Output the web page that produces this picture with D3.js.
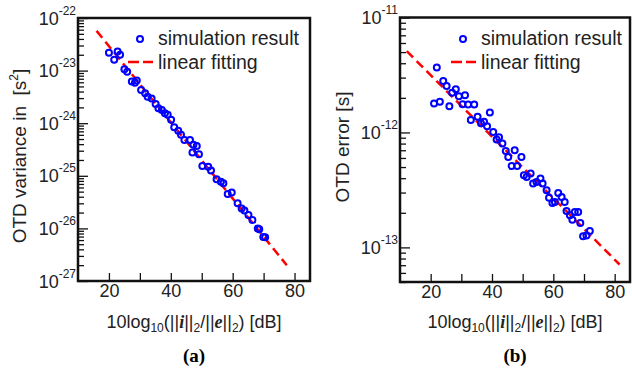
<!DOCTYPE html>
<html>
<head>
<meta charset="utf-8">
<style>
	body { margin: 0; background: #fff; }
	svg { display: block; font-family: Arial, "Liberation Sans", sans-serif; }
	.frame { fill: none; stroke: #111; stroke-width: 2.5; }
	.tick line { stroke: #111; stroke-width: 1.3; }
	.tick text { fill: #222; font-size: 18px; }
	.dot { fill: none; stroke: #0000ff; stroke-width: 2; }
	.fit { fill: none; stroke: #ff0000; stroke-width: 2.5; stroke-dasharray: 9 5; }
	.label { fill: #222; }
</style>
</head>
<body>
<div class="vis-otd"></div>
<script src="https://d3js.org/d3.v7.min.js"></script>
<script>

	// Data //
	// ---- //

	// (a) OTD variance
	let xA = [20.0, 21.7, 22.8, 23.6, 25.0, 25.9, 27.4, 28.4, 29.0, 30.4, 31.7, 32.5, 33.8, 35.1, 36.0,
		37.1, 38.1, 39.0, 40.1, 41.1, 42.4, 43.3, 44.4, 46.2, 47.3, 48.4, 47.0, 49.1, 50.2, 52.1,
		53.0, 54.8, 56.2, 57.0, 58.4, 59.7, 61.6, 62.9, 63.8, 65.1, 66.4, 68.1, 68.6, 69.9, 70.5];
	let yA = [2.19e-23, 1.6e-23, 2.3e-23, 2.0e-23, 1.06e-23, 9.5e-24, 6.2e-24, 5.9e-24, 6.5e-24, 4.3e-24, 3.7e-24, 3.2e-24, 2.96e-24, 2.33e-24, 1.92e-24,
		1.78e-24, 1.55e-24, 1.44e-24, 1.16e-24, 8.4e-25, 7.2e-25, 6.0e-25, 4.8e-25, 4.8e-25, 3.9e-25, 3.7e-25, 2.77e-25, 2.57e-25, 1.54e-25, 1.49e-25,
		1.26e-25, 8.6e-26, 7.7e-26, 7.2e-26, 4.5e-26, 4.8e-26, 3.0e-26, 2.4e-26, 2.18e-26, 1.79e-26, 1.44e-26, 1.0e-26, 9.6e-27, 6.9e-27, 6.8e-27];
	let fitXA = [16, 77.5];
	let fitYA = [5.7e-23, 2.0e-27];

	// (b) OTD error
	let xB = [22.0, 21.1, 23.0, 24.1, 25.2, 26.1, 27.0, 28.2, 29.2, 30.4, 31.2, 32.2, 34.2, 33.1, 35.3,
		36.4, 37.4, 38.4, 39.3, 40.4, 41.5, 42.3, 43.4, 44.5, 45.3, 46.4, 47.4, 48.2, 49.6, 50.4,
		51.3, 52.6, 53.4, 54.5, 55.8, 56.5, 57.8, 58.6, 59.7, 60.5, 61.6, 62.7, 63.7, 64.3, 65.4,
		66.2, 67.0, 68.1, 68.8, 69.7, 70.8, 71.9];
	let yB = [3.68e-12, 1.79e-12, 1.85e-12, 2.80e-12, 2.53e-12, 1.69e-12, 2.21e-12, 2.37e-12, 2.07e-12, 1.76e-12, 2.11e-12, 1.75e-12, 1.75e-12, 1.28e-12, 1.37e-12,
		1.20e-12, 1.24e-12, 1.13e-12, 1.49e-12, 1.01e-12, 8.7e-13, 9.1e-13, 8.0e-13, 6.9e-13, 6.1e-13, 5.1e-13, 7.0e-13, 5.1e-13, 6.1e-13, 4.24e-13,
		4.1e-13, 4.4e-13, 3.59e-13, 3.71e-13, 3.97e-13, 3.59e-13, 3.14e-13, 2.71e-13, 2.43e-13, 2.48e-13, 2.97e-13, 2.74e-13, 2.48e-13, 2.07e-13, 1.90e-13,
		1.74e-13, 2.03e-13, 2.03e-13, 1.63e-13, 1.25e-13, 1.27e-13, 1.39e-13];
	let fitXB = [12.2, 81.6];
	let fitYB = [5.1e-12, 7.1e-14];

	// Ticks
	let xTicks = [20, 30, 40, 50, 60, 70, 80];
	let xTickLabels = ["20", "", "40", "", "60", "", "80"];
	let expA = [-22, -23, -24, -25, -26, -27];
	let expB = [-11, -12, -13];

	let legendLabels = ["simulation result", "linear fitting"];

	// Setup //
	// ----- //

	let svg = d3.select(".vis-otd").append("svg")
		.attr("width", 632)
		.attr("height", 369);

	function panel(cfg) {
		let x = d3.scaleLinear().domain([10, 85]).range([cfg.left, cfg.right]);
		let y = d3.scaleLog().domain(cfg.ydom).range([cfg.bottom, cfg.top]);
		let g = svg.append("g");

		// minor y ticks
		let minor = [];
		for (let e = Math.floor(Math.log10(cfg.ydom[0])); e < Math.log10(cfg.ydom[1]); e++) {
			for (let m = 2; m <= 9; m++) {
				let v = m * Math.pow(10, e);
				if (v >= cfg.ydom[0] && v <= cfg.ydom[1]) minor.push(v);
			}
		}
		g.append("g")
			.attr("transform", "translate(" + cfg.left + ",0)")
			.call(d3.axisLeft(y).tickValues(minor).tickSize(-6).tickFormat(""))
			.call(a => a.select(".domain").remove());
		g.append("g")
			.attr("transform", "translate(" + cfg.left + ",0)")
			.call(d3.axisLeft(y).tickValues(cfg.exps.map(e => Math.pow(10, e))).tickSize(-10).tickFormat(""))
			.call(a => a.select(".domain").remove());

		// y tick labels 10^e
		let yl = g.selectAll(".ylab").data(cfg.exps).enter().append("text")
			.attr("class", "label")
			.attr("x", cfg.left - 2)
			.attr("y", d => y(Math.pow(10, d)) + 6.5)
			.style("text-anchor", "end")
			.style("font-size", "18px");
		yl.append("tspan").text("10");
		yl.append("tspan").attr("dy", -10).style("font-size", "12px").text(d => "-" + Math.abs(d));

		// x axis
		g.append("g")
			.attr("transform", "translate(0," + cfg.bottom + ")")
			.call(d3.axisBottom(x).tickValues(xTicks).tickSize(-8).tickPadding(3)
				.tickFormat((d, i) => xTickLabels[i]))
			.call(a => a.select(".domain").remove());

		// frame
		g.append("rect")
			.attr("class", "frame")
			.attr("x", cfg.left).attr("y", cfg.top)
			.attr("width", cfg.right - cfg.left)
			.attr("height", cfg.bottom - cfg.top);

		// fit line
		let line = d3.line().x(d => x(d[0])).y(d => y(d[1]));
		g.append("path")
			.datum(cfg.fx.map((v, i) => [v, cfg.fy[i]]))
			.attr("class", "fit")
			.attr("d", line);

		// points
		g.selectAll(".dot").data(cfg.xs.map((v, i) => [v, cfg.ys[i]])).enter().append("circle")
			.attr("class", "dot")
			.attr("cx", d => x(d[0]))
			.attr("cy", d => y(d[1]))
			.attr("r", 3);

		// legend
		g.append("circle").attr("class", "dot")
			.attr("cx", cfg.legX).attr("cy", 39).attr("r", 3);
		g.append("line").attr("class", "fit")
			.attr("x1", cfg.legX - 12).attr("x2", cfg.legX + 13)
			.attr("y1", 62).attr("y2", 62)
			.style("stroke-dasharray", "11 4");
		g.selectAll(".leg").data(legendLabels).enter().append("text")
			.attr("class", "label")
			.attr("x", cfg.legX + 18)
			.attr("y", (d, i) => 45 + i * 24)
			.style("font-size", "19.5px")
			.text(d => d);

		// x title
		let cx = (cfg.left + cfg.right) / 2;
		let xt = g.append("text")
			.attr("class", "label")
			.attr("x", cx).attr("y", 328)
			.style("text-anchor", "middle")
			.style("font-size", "18px");
		xt.append("tspan").text("10log");
		xt.append("tspan").attr("dy", 4).style("font-size", "12px").text("10");
		xt.append("tspan").attr("dy", -4).text("(||");
		xt.append("tspan").style("font-family", "'Liberation Serif', serif").style("font-weight", 700).style("font-style", "italic").text("i");
		xt.append("tspan").text("||");
		xt.append("tspan").attr("dy", 4).style("font-size", "12px").text("2");
		xt.append("tspan").attr("dy", -4).text("/||");
		xt.append("tspan").style("font-family", "'Liberation Serif', serif").style("font-weight", 700).style("font-style", "italic").text("e");
		xt.append("tspan").text("||");
		xt.append("tspan").attr("dy", 4).style("font-size", "12px").text("2");
		xt.append("tspan").attr("dy", -4).text(") [dB]");

		// y title
		let yt = g.append("text")
			.attr("class", "label")
			.attr("transform", "translate(" + cfg.ytx + "," + cfg.yty + ") rotate(-90)")
			.style("text-anchor", "middle")
			.style("font-size", "19px")
			.style("white-space", "pre");
		cfg.ytitle(yt);

		// panel letter
		g.append("text")
			.attr("x", cx).attr("y", 362)
			.style("text-anchor", "middle")
			.style("font-family", "'Liberation Serif', 'Times New Roman', serif")
			.style("font-weight", 700)
			.style("font-size", "19px")
			.text(cfg.letter);
	}

	panel({
		left: 78, right: 310, top: 18, bottom: 281,
		ydom: [1e-27, 1e-22], exps: expA,
		xs: xA, ys: yA, fx: fitXA, fy: fitYA,
		legX: 140, ytx: 26, yty: 156, letter: "(a)",
		ytitle: t => {
			t.append("tspan").text("OTD variance in  [s");
			t.append("tspan").attr("dy", -8).style("font-size", "12px").text("2");
			t.append("tspan").attr("dy", 8).text("]");
		}
	});

	panel({
		left: 400, right: 630, top: 17.5, bottom: 282,
		ydom: [5e-14, 1e-11], exps: expB,
		xs: xB, ys: yB, fx: fitXB, fy: fitYB,
		legX: 463, ytx: 349, yty: 147, letter: "(b)",
		ytitle: t => t.text("OTD error [s]")
	});
</script>
</body>
</html>
